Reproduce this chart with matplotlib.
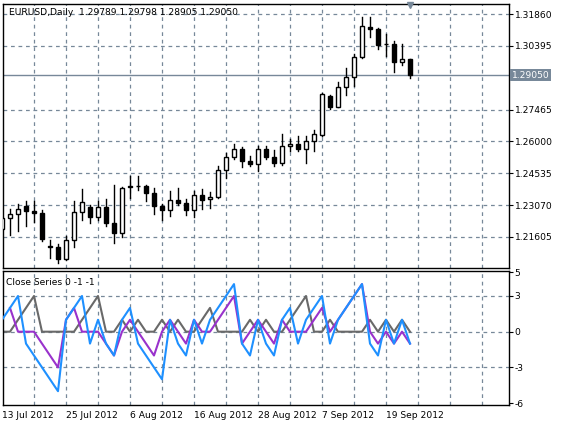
import numpy as np
import matplotlib
matplotlib.use("Agg")
import matplotlib.pyplot as plt
from matplotlib.patches import Rectangle

opens = [1.2197,1.2248,1.2266,1.2301,1.2281,1.2271,1.2119,1.2114,1.2059,1.2146,1.2277,1.2298,1.2252,
         1.2298,1.2225,1.2179,1.2392,1.2396,1.2396,1.2365,1.2304,1.2283,1.2332,1.2316,1.2283,1.2355,
         1.2335,1.2344,1.2468,1.2528,1.2566,1.2511,1.2496,1.2564,1.2528,1.2503,1.2580,1.2587,1.2564,
         1.2603,1.2630,1.2809,1.2757,1.2849,1.2898,1.2987,1.3125,1.3117,1.3048,1.3048,1.2963,1.29789]
highs = [1.2255,1.2289,1.2313,1.2326,1.2324,1.2283,1.2145,1.2128,1.2166,1.2326,1.2382,1.2309,1.2327,
         1.2335,1.2399,1.2390,1.2439,1.2442,1.2401,1.2385,1.2313,1.2373,1.2385,1.2335,1.2370,1.2381,
         1.2367,1.2485,1.2546,1.2589,1.2574,1.2534,1.2577,1.2577,1.2562,1.2633,1.2610,1.2626,1.2623,
         1.2653,1.2825,1.2812,1.2875,1.2936,1.3001,1.3174,1.3174,1.3120,1.3093,1.3062,1.3048,1.29798]
lows = [1.2179,1.2171,1.2186,1.2212,1.2228,1.2140,1.2064,1.2041,1.2053,1.2113,1.2240,1.2225,1.2240,
        1.2212,1.2133,1.2160,1.2339,1.2375,1.2324,1.2266,1.2240,1.2255,1.2309,1.2263,1.2252,1.2289,
        1.2293,1.2339,1.2431,1.2519,1.2482,1.2485,1.2462,1.2519,1.2485,1.2493,1.2558,1.2554,1.2500,
        1.2558,1.2623,1.2751,1.2757,1.2814,1.2855,1.2982,1.3082,1.3025,1.2993,1.2921,1.2952,1.28905]
closes = [1.2248,1.2266,1.2289,1.2278,1.2271,1.2151,1.2114,1.2059,1.2148,1.2275,1.2321,1.2252,1.2298,
          1.2225,1.2179,1.2385,1.2396,1.2396,1.2362,1.2301,1.2283,1.2332,1.2316,1.2283,1.2355,1.2330,
          1.2344,1.2468,1.2528,1.2564,1.2508,1.2496,1.2564,1.2528,1.2503,1.2580,1.2589,1.2564,1.2603,
          1.2633,1.2817,1.2757,1.2849,1.2898,1.2987,1.3131,1.3116,1.3044,1.3048,1.2963,1.2978,1.29050]

gray_s = [0,0,1,2,3,0,0,0,0,0,1,2,3,0,0,1,0,1,0,0,1,0,1,0,0,1,2,0,0,0,0,1,0,1,0,0,1,2,3,0,0,1,0,0,0,0,1,0,1,0,1,0]
purple_s = [np.nan,2,0,0,0,-1,-2,-3,1,2,0,0,0,-1,-2,0,1,0,-1,-2,0,1,0,-1,1,0,0,1,2,3,-1,0,1,0,-1,1,0,0,0,1,2,0,1,2,3,4,0,-1,0,-1,0,-1]
blue_s = [1,2,3,-1,-2,-3,-4,-5,1,2,3,-1,1,-1,-2,1,2,-1,-2,-3,-4,1,-1,-2,1,-1,1,2,3,4,-1,-2,1,-1,-2,1,2,-1,1,2,3,-1,1,2,3,4,-1,-2,1,-1,1,-1]

price_ticks = [1.31860,1.30395,1.27465,1.26000,1.24535,1.23070,1.21605]
date_labels = ["13 Jul 2012","25 Jul 2012","6 Aug 2012","16 Aug 2012","28 Aug 2012","7 Sep 2012","19 Sep 2012"]
osc_ticks = [5,3,0,-3,-6]
title = "EURUSD,Daily  1.29789 1.29798 1.28905 1.29050"
last_price = 1.29050

W, H = 562, 426
fig = plt.figure(figsize=(W/100, H/100), dpi=100)
plt.rcParams['font.family'] = ['DejaVu Sans']
FS = 6.6
gridc = '#778899'

def ax_rect(x0, y0, x1, y1):
    return [x0/W, 1-y1/H, (x1-x0)/W, (y1-y0)/H]

ax = fig.add_axes(ax_rect(3, 4, 509, 268))
ax2 = fig.add_axes(ax_rect(3, 271, 509, 405))
xl = ((3-2)/8, (509-2)/8)
n = len(closes)
x = np.arange(n)

for a in (ax, ax2):
    a.set_xlim(*xl)
    a.set_xticks(np.arange(4, 64, 4))
    a.tick_params(axis='x', length=0, labelbottom=False)
    a.grid(True, color=gridc, linestyle=(0, (3, 3)), linewidth=0.9)
    a.yaxis.tick_right()
    a.tick_params(axis='y', direction='out', length=3, labelsize=FS, pad=1)
    for s in a.spines.values():
        s.set_color('black'); s.set_linewidth(1)

ax.set_ylim(1.20179, 1.32320)
ax.set_yticks(price_ticks)
ax.set_yticklabels([f"{v:.5f}" for v in price_ticks])
bw = 0.6
for i in range(n):
    o, h, l, c = opens[i], highs[i], lows[i], closes[i]
    ax.plot([i, i], [l, h], color='black', lw=1, zorder=3)
    lo, hi = min(o, c), max(o, c)
    fc = 'white' if c >= o else 'black'
    ax.add_patch(Rectangle((i-bw/2, lo), bw, max(hi-lo, 0.00008), facecolor=fc,
                           edgecolor='black', lw=1, zorder=4))
ax.axhline(last_price, color=gridc, lw=1, zorder=2)
ax.text(1.005, last_price, f"{last_price:.5f}", transform=ax.get_yaxis_transform(),
        ha='left', va='center', fontsize=FS, color='white',
        bbox=dict(boxstyle='square,pad=0.15', fc=gridc, ec='none'))
ax.text(0.012, 0.985, title, transform=ax.transAxes, ha='left', va='top', fontsize=FS)
ax.plot([n-1], [1.3228], marker='v', color=gridc, markersize=5, clip_on=False, zorder=5)

ax2.set_ylim(-6.16, 5.1)
ax2.set_yticks(osc_ticks)
ax2.set_yticklabels([str(v) for v in osc_ticks])
ax2.grid(False)
for gx in np.arange(4, 64, 4):
    ax2.axvline(gx, color=gridc, linestyle=(0, (3, 3)), lw=0.9, zorder=0)
for gy in (3, 0, -3):
    ax2.axhline(gy, color=gridc, linestyle=(0, (3, 3)), lw=0.9, zorder=0)
ax2.plot(x, gray_s, color='#696969', lw=1.5, zorder=2)
ax2.plot(x, purple_s, color='#9932CC', lw=1.5, zorder=3)
ax2.plot(x, blue_s, color='#1E90FF', lw=1.5, zorder=4)
ax2.text(0.006, 0.95, "Close Series 0 -1 -1", transform=ax2.transAxes, ha='left', va='top', fontsize=FS)
for k, lab in enumerate(date_labels):
    ax2.text(k*8, -6.16, lab, ha='left', va='top', fontsize=FS,
             transform=ax2.transData).set_y(-6.16 - 0.5)

fig.savefig("out.png", dpi=100)
